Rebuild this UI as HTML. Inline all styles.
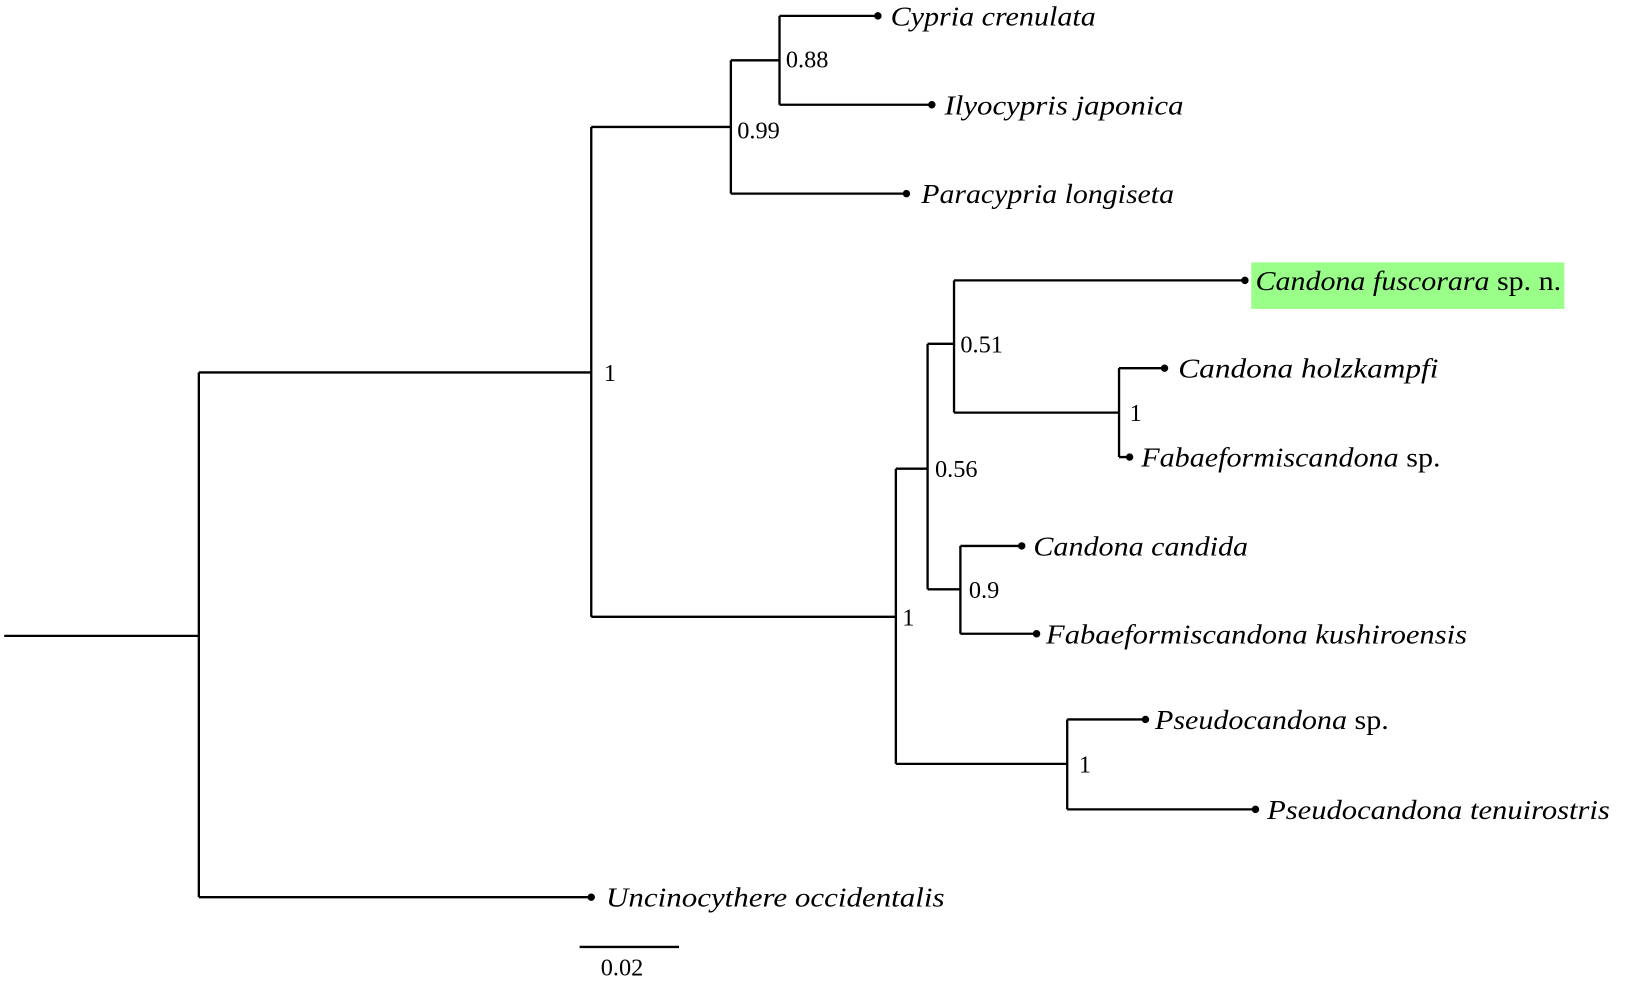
<!DOCTYPE html>
<html><head><meta charset="utf-8"><style>html,body{margin:0;padding:0;background:#fff}svg{display:block}
.t{font-family:"Liberation Serif","Times New Roman",serif;font-size:26px;fill:#000}
.i{font-style:italic}.n{font-style:normal}.s{font-size:23px}</style></head><body>
<svg width="1650" height="985" viewBox="0 0 1560 931" preserveAspectRatio="none" xmlns="http://www.w3.org/2000/svg">
<g stroke="#000" stroke-width="2.2" fill="none">
<path d="M4 601H188M188 352V848M188 352H559M188 848H559M559 120V583M559 120H691M691 57V183M691 57H737M737 15V99M737 15H830M737 99H881M691 183H857"/>
<path d="M559 583H847M847 443V722M847 443H877M877 325V557M877 325H902M902 265V390M902 265H1177M902 390H1058M1058 348V432M1058 348H1101M1058 432H1068M877 557H908M908 516V599M908 516H966M908 599H980M847 722H1009M1009 680V765M1009 680H1083M1009 765H1187"/>
<path d="M548 895H642"/>
</g>
<g fill="#000">
<circle cx="830" cy="15" r="3.5"/><circle cx="881" cy="99" r="3.5"/><circle cx="857" cy="183" r="3.5"/><circle cx="1177" cy="265" r="3.5"/><circle cx="1101" cy="348" r="3.5"/><circle cx="1068" cy="432" r="3.5"/><circle cx="966" cy="516" r="3.5"/><circle cx="980" cy="599" r="3.5"/><circle cx="1083" cy="680" r="3.5"/><circle cx="1187" cy="765" r="3.5"/><circle cx="559" cy="848" r="3.5"/>
</g>
<rect x="1183" y="248" width="296" height="44" fill="#99ff88"/>
<g class="t">
<g class="i">
<text x="842" y="24" textLength="194" lengthAdjust="spacingAndGlyphs">Cypria crenulata</text>
<text x="893" y="108" textLength="226" lengthAdjust="spacingAndGlyphs">Ilyocypris japonica</text>
<text x="871" y="192" textLength="239" lengthAdjust="spacingAndGlyphs">Paracypria longiseta</text>
<text x="1187" y="274" textLength="289" lengthAdjust="spacingAndGlyphs">Candona fuscorara<tspan class="n"> sp. n.</tspan></text>
<text x="1114" y="357" textLength="246" lengthAdjust="spacingAndGlyphs">Candona holzkampfi</text>
<text x="1079" y="441" textLength="283" lengthAdjust="spacingAndGlyphs">Fabaeformiscandona<tspan class="n"> sp.</tspan></text>
<text x="977" y="525" textLength="203" lengthAdjust="spacingAndGlyphs">Candona candida</text>
<text x="989" y="608" textLength="398" lengthAdjust="spacingAndGlyphs">Fabaeformiscandona kushiroensis</text>
<text x="1092" y="689" textLength="221" lengthAdjust="spacingAndGlyphs">Pseudocandona<tspan class="n"> sp.</tspan></text>
<text x="1198" y="774" textLength="324" lengthAdjust="spacingAndGlyphs">Pseudocandona tenuirostris</text>
<text x="573" y="857" textLength="320" lengthAdjust="spacingAndGlyphs">Uncinocythere occidentalis</text>
</g>
<g class="s">
<text x="743" y="64">0.88</text>
<text x="697" y="131">0.99</text>
<text x="571" y="360">1</text>
<text x="908" y="333">0.51</text>
<text x="1068" y="398">1</text>
<text x="884" y="451">0.56</text>
<text x="916" y="565">0.9</text>
<text x="853" y="591">1</text>
<text x="1020" y="730">1</text>
<text x="568" y="922">0.02</text>
</g>
</g>
</svg>
</body></html>
